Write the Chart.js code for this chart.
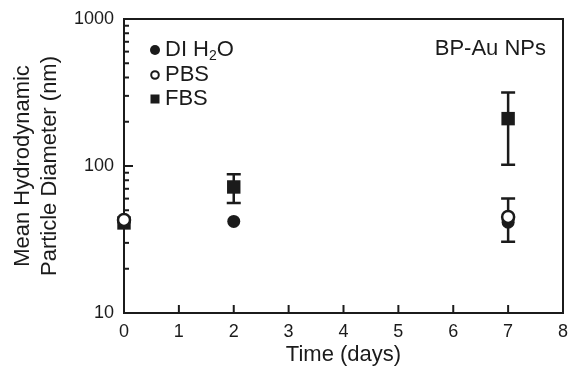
<!DOCTYPE html>
<html>
<head>
<meta charset="utf-8">
<script src="https://cdn.jsdelivr.net/npm/chart.js@4.4.0/dist/chart.umd.min.js"></script>
<style>
  html, body { margin: 0; padding: 0; background: #fff; }
  #wrap { width: 568px; height: 368px; }
</style>
</head>
<body>
<div id="wrap"><canvas id="chart" width="568" height="368"></canvas></div>
<script>
// values
const days = [0, 2, 7];
const diH2O = [42, 42, 41.5];
const pbs = [43, null, 45];
const pbsErrLow = [null, null, 30.5];
const pbsErrHigh = [null, null, 60];
const fbs = [41, 72, 210];
const fbsErrLow = [null, 56, 102];
const fbsErrHigh = [null, 88, 316];
const yTickLabels = [10, 100, 1000];
const xTicks = [0, 1, 2, 3, 4, 5, 6, 7, 8];

const ink = '#1b1b1b';
const fontFamily = '"Liberation Sans", Arial, Helvetica, sans-serif';

function toPoints(ys) {
  return days.map((d, i) => ({ x: d, y: ys[i] })).filter(p => p.y !== null);
}

// ticks pointing inward, top/right frame, error bars
const framePlugin = {
  id: 'framePlugin',
  beforeDatasetsDraw(chart) {
    const ctx = chart.ctx;
    const area = chart.chartArea;
    const xs = chart.scales.x;
    const ys = chart.scales.y;
    ctx.save();
    ctx.strokeStyle = ink;
    ctx.lineWidth = 2;
    ctx.beginPath();
    ctx.moveTo(area.left, area.top);
    ctx.lineTo(area.right, area.top);
    ctx.lineTo(area.right, area.bottom);
    ctx.stroke();

    // y ticks: major at each decade, minor at 2..9
    for (let i = 0; i < yTickLabels.length; i++) {
      const dec = yTickLabels[i];
      let py = ys.getPixelForValue(dec);
      ctx.beginPath(); ctx.moveTo(area.left, py); ctx.lineTo(area.left + 9, py); ctx.stroke();
      if (i === yTickLabels.length - 1) break;
      for (let k = 2; k <= 9; k++) {
        py = ys.getPixelForValue(dec * k);
        ctx.beginPath(); ctx.moveTo(area.left, py); ctx.lineTo(area.left + 5, py); ctx.stroke();
      }
    }
    // x ticks
    xTicks.forEach(v => {
      const px = xs.getPixelForValue(v);
      ctx.beginPath();
      ctx.moveTo(px, area.bottom);
      ctx.lineTo(px, area.bottom - 8);
      ctx.stroke();
    });

    // error bars
    const bars = [[pbsErrLow, pbsErrHigh], [fbsErrLow, fbsErrHigh]];
    ctx.lineWidth = 2.5;
    bars.forEach(([lo, hi]) => {
      days.forEach((d, i) => {
        if (lo[i] === null) return;
        const px = xs.getPixelForValue(d);
        const y1 = ys.getPixelForValue(lo[i]);
        const y2 = ys.getPixelForValue(hi[i]);
        ctx.beginPath();
        ctx.moveTo(px, y1); ctx.lineTo(px, y2);
        ctx.moveTo(px - 7, y1); ctx.lineTo(px + 7, y1);
        ctx.moveTo(px - 7, y2); ctx.lineTo(px + 7, y2);
        ctx.stroke();
      });
    });
    ctx.restore();
  },
  afterDraw(chart) {
    const ctx = chart.ctx;
    ctx.save();
    ctx.fillStyle = ink;
    ctx.strokeStyle = ink;
    ctx.textBaseline = 'middle';
    ctx.font = '22px ' + fontFamily;

    // legend
    const mx = 155, tx = 165;
    // DI H2O
    ctx.beginPath(); ctx.arc(mx, 50, 5, 0, Math.PI * 2); ctx.fill();
    let x = tx;
    ctx.fillText('DI H', x, 50); x += ctx.measureText('DI H').width;
    ctx.font = '14px ' + fontFamily;
    ctx.fillText('2', x, 56); x += ctx.measureText('2').width;
    ctx.font = '22px ' + fontFamily;
    ctx.fillText('O', x, 50);
    // PBS
    ctx.lineWidth = 2;
    ctx.fillStyle = '#fff';
    ctx.beginPath(); ctx.arc(mx, 75, 3.8, 0, Math.PI * 2); ctx.fill(); ctx.stroke();
    ctx.fillStyle = ink;
    ctx.fillText('PBS', tx, 75);
    // FBS
    ctx.fillRect(mx - 4.5, 94.5, 9, 9);
    ctx.fillText('FBS', tx, 99);

    ctx.textAlign = 'right';
    ctx.fillText('BP-Au NPs', 546, 49);
    ctx.restore();
  }
};

new Chart(document.getElementById('chart'), {
  type: 'scatter',
  data: {
    datasets: [
      {
        label: 'PBS',
        data: toPoints(pbs),
        pointStyle: 'circle',
        pointRadius: 6,
        pointHoverRadius: 6,
        backgroundColor: '#fff',
        borderColor: ink,
        pointBorderWidth: 2.5,
        clip: false
      },
      {
        label: 'DI H2O',
        data: toPoints(diH2O),
        pointStyle: 'circle',
        pointRadius: 6.5,
        pointHoverRadius: 6.5,
        backgroundColor: ink,
        borderColor: ink,
        pointBorderWidth: 0,
        clip: false
      },
      {
        label: 'FBS',
        data: toPoints(fbs),
        pointStyle: 'rect',
        pointRadius: 9.5,
        pointHoverRadius: 9.5,
        backgroundColor: ink,
        borderColor: ink,
        pointBorderWidth: 0,
        clip: false
      }
    ]
  },
  options: {
    responsive: false,
    animation: false,
    layout: { autoPadding: false, padding: { top: 19, right: 5, left: 0, bottom: 0 } },
    plugins: {
      legend: { display: false },
      tooltip: { enabled: false }
    },
    scales: {
      x: {
        type: 'linear',
        min: 0,
        max: 8,
        afterBuildTicks: scale => { scale.ticks = xTicks.map(v => ({ value: v })); },
        afterFit: scale => {
          scale.height = 55;
          scale.paddingLeft = 0;
          scale.paddingRight = 0;
        },
        grid: { display: false, drawTicks: false },
        border: { display: true, color: ink, width: 2 },
        ticks: {
          color: ink,
          padding: 8,
          maxRotation: 0,
          font: { family: fontFamily, size: 18 }
        },
        title: {
          display: true,
          text: 'Time (days)',
          color: ink,
          padding: { top: 0, bottom: 0 },
          font: { family: fontFamily, size: 22, lineHeight: 1.2 }
        }
      },
      y: {
        type: 'logarithmic',
        min: 10,
        max: 1000,
        afterFit: scale => {
          scale.width = 124;
          scale.paddingTop = 0;
          scale.paddingBottom = 0;
        },
        grid: { display: false, drawTicks: false },
        border: { display: true, color: ink, width: 2 },
        ticks: {
          color: ink,
          padding: 10,
          autoSkip: false,
          font: { family: fontFamily, size: 18 },
          callback: v => yTickLabels.includes(v) ? String(v) : ''
        },
        title: {
          display: true,
          text: ['Mean Hydrodynamic', 'Particle Diameter (nm)'],
          color: ink,
          padding: { top: 10, bottom: 0 },
          font: { family: fontFamily, size: 22, lineHeight: 1.2 }
        }
      }
    }
  },
  plugins: [framePlugin]
});
</script>
</body>
</html>
